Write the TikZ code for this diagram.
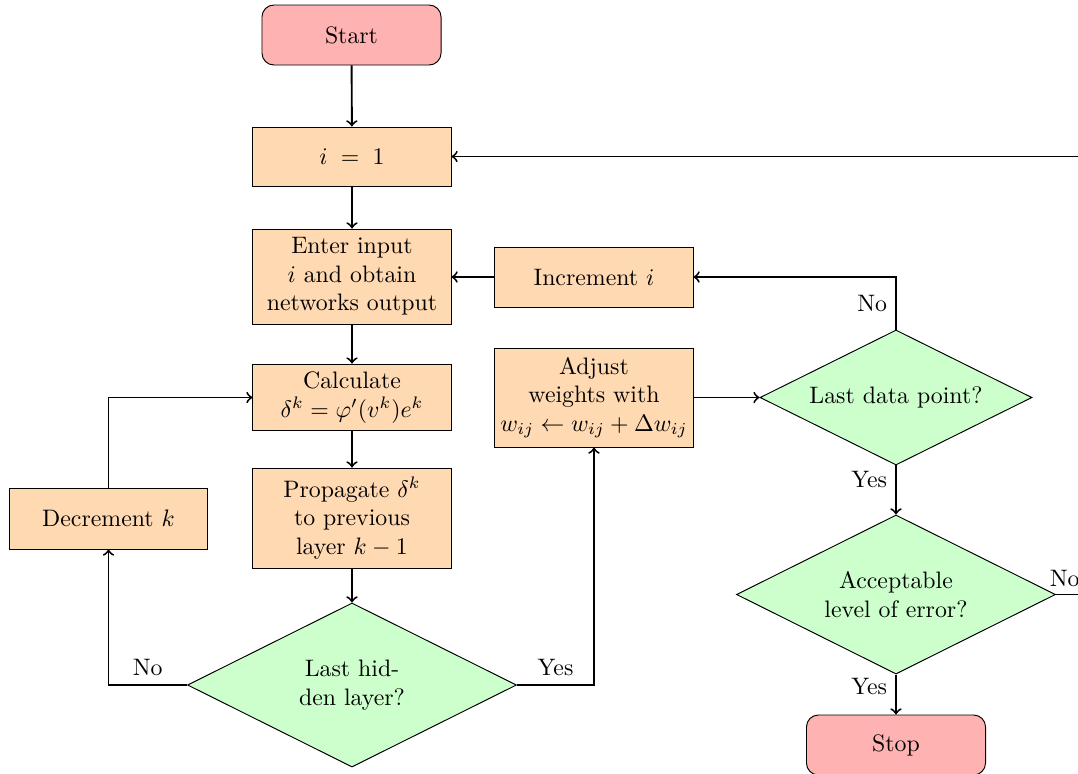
\documentclass[tikz,border=0pt]{standalone}
\usetikzlibrary{shapes.geometric}
\begin{document}
\begin{tikzpicture}[x=0.42pt,y=-0.42pt,
  proc/.style={draw, fill=orange!30, align=center, minimum width=83.2pt, inner sep=2pt},
  term/.style={draw, fill=red!30, rounded corners=5pt, align=center, minimum width=75.2pt, minimum height=25.2pt},
  dec/.style={draw, fill=green!20, diamond, align=center, inner sep=0pt, shape aspect=2},
  arr/.style={thick,->}]
\useasboundingbox (0,0) rectangle (1078,773);
\clip (0,0) rectangle (1078,773);

\node[term] (start) at (351.5,35) {Start};
\node[proc, minimum height=24.8pt] (init) at (352,156.5) {$i \;=\; 1$};
\node[proc, minimum height=39.9pt] (enter) at (352,276.5) {Enter input\\$i$ and obtain\\networks output};
\node[proc, minimum height=25.2pt] (inc) at (594,277) {Increment $i$};
\node[proc, minimum height=28.1pt] (calc) at (352,397.5) {Calculate\\$\delta^k=\varphi'(v^k)e^k$};
\node[proc, minimum height=41.6pt] (adj) at (594,397.5) {Adjust\\weights with\\$w_{ij}\leftarrow w_{ij}+\Delta w_{ij}$};
\node[proc, minimum height=42pt] (prop) at (352,518) {Propagate $\delta^k$\\to previous\\layer $k-1$};
\node[proc, minimum height=25.6pt] (decr) at (108.5,518.5) {Decrement $k$};
\node[dec, minimum width=138.2pt, minimum height=68.9pt] (lhl) at (352,685) {Last hid-\\den layer?};
\node[dec, minimum width=114.2pt, minimum height=56.7pt] (ldp) at (896,397.5) {Last data point?};
\node[dec, minimum width=134pt, minimum height=66.8pt] (acc) at (896,594.5) {Acceptable\\level of error?};
\node[term] (stop) at (896,745) {Stop};
\coordinate (r) at (1110,594.5);

\draw[arr] (start) -- (init);
\draw[arr] (init) -- (enter);
\draw[arr] (enter) -- (calc);
\draw[arr] (calc) -- (prop);
\draw[arr] (prop) -- (lhl);
\draw[arr] (lhl.west) -| node[pos=0.25, above] {No} (decr.south);
\draw[arr] (lhl.east) -| node[pos=0.25, above] {Yes} (adj.south);
\draw[arr] (decr.north) |- (calc.west);
\draw[arr] (adj) -- (ldp);
\draw[arr] (ldp.north) |- node[pos=0.25, left] {No} (inc.east);
\draw[arr] (inc.west) -- (enter.east |- inc.west);
\draw[arr] (ldp) -- node[pos=0.28, left] {Yes} (acc);
\draw[arr] (acc) -- node[pos=0.3, left] {Yes} (stop);
\draw[arr] (acc.east) -- node[pos=0, anchor=south west, inner sep=1pt, xshift=-4pt, yshift=2pt] {No} (r) |- (init.east);
\end{tikzpicture}
\end{document}
